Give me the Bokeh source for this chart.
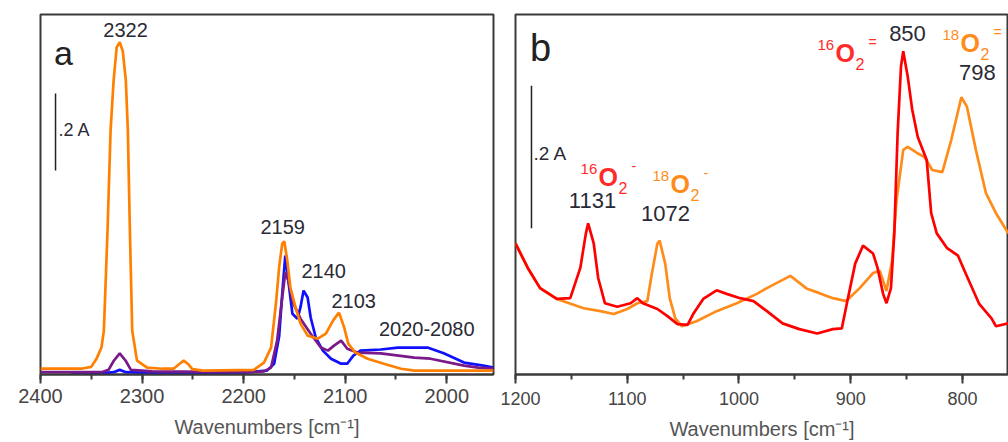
from bokeh.plotting import figure
from bokeh.models import Range1d, SingleIntervalTicker, Label
from bokeh.layouts import row
from bokeh.embed import file_html
from bokeh.resources import INLINE

# ---------------- data: panel a (CO adsorption region) ----------------
wn_a_orange = [2400, 2360, 2350, 2345, 2340, 2337.6, 2334, 2331, 2328, 2325, 2322, 2319, 2316,
               2314, 2312, 2309.7, 2305, 2295, 2280, 2269, 2263, 2259, 2255, 2250.5, 2240,
               2190, 2180, 2173, 2168, 2165, 2162, 2160, 2157, 2154, 2149, 2144, 2137, 2127,
               2119, 2112, 2107, 2106, 2101, 2097, 2090, 2078, 2062, 2045, 2032, 1954]
abs_a_orange = [0.015, 0.015, 0.02, 0.04, 0.07, 0.114, 0.374, 0.634, 0.764, 0.85, 0.863, 0.84,
                0.764, 0.634, 0.374, 0.114, 0.036, 0.018, 0.015, 0.015, 0.028, 0.036, 0.028,
                0.014, 0.01, 0.012, 0.031, 0.07, 0.19, 0.28, 0.34, 0.346, 0.296, 0.226, 0.175,
                0.132, 0.101, 0.093, 0.106, 0.14, 0.158, 0.16, 0.122, 0.08, 0.057, 0.041, 0.028,
                0.015, 0.01, 0.01]

wn_a_blue = [2370, 2340, 2328, 2322, 2316, 2300, 2200, 2177, 2170, 2165, 2162, 2159, 2156, 2152,
             2147, 2144, 2141, 2137, 2134, 2129, 2122, 2114, 2104, 2098, 2092, 2085, 2065, 2048,
             2019, 2003, 1983, 1964, 1954]
abs_a_blue = [0.003, 0.003, 0.006, 0.012, 0.006, 0.005, 0.005, 0.01, 0.028, 0.1, 0.21, 0.309,
              0.244, 0.158, 0.145, 0.175, 0.218, 0.2, 0.148, 0.096, 0.062, 0.041, 0.028, 0.028,
              0.049, 0.062, 0.065, 0.07, 0.07, 0.055, 0.031, 0.023, 0.018]

wn_a_purple = [2400, 2340, 2333, 2328, 2322, 2316, 2311, 2300, 2290, 2200, 2180, 2173, 2167,
               2162, 2159, 2156, 2151, 2144, 2134, 2124, 2117, 2111, 2104, 2098, 2088, 2065,
               2032, 2016, 1983, 1969, 1954]
abs_a_purple = [0.006, 0.006, 0.012, 0.035, 0.055, 0.035, 0.012, 0.01, 0.008, 0.006, 0.008,
                0.018, 0.088, 0.2, 0.265, 0.244, 0.184, 0.145, 0.106, 0.07, 0.062, 0.075, 0.088,
                0.067, 0.057, 0.055, 0.044, 0.041, 0.023, 0.018, 0.015]

# ---------------- data: panel b (superoxide / peroxide region) ----------------
wn_b_red = [1200, 1189, 1178, 1163, 1151, 1142, 1137, 1135, 1130, 1126, 1120, 1109, 1097, 1091,
            1086, 1073, 1064, 1055, 1046, 1041, 1032, 1020, 1011, 999, 987, 975, 961, 946, 930,
            916, 908, 903, 896, 889, 880, 876, 871, 868, 864, 861, 858, 855, 853, 849, 845, 840,
            832, 828, 823, 814, 804, 797, 785, 774, 770, 759]
abs_b_red = [0.182, 0.148, 0.12, 0.105, 0.106, 0.148, 0.196, 0.21, 0.182, 0.134, 0.099, 0.094,
             0.099, 0.106, 0.099, 0.091, 0.081, 0.07, 0.069, 0.084, 0.105, 0.117, 0.112, 0.106,
             0.102, 0.088, 0.071, 0.063, 0.057, 0.063, 0.064, 0.102, 0.154, 0.179, 0.168, 0.148,
             0.112, 0.099, 0.12, 0.196, 0.336, 0.428, 0.449, 0.414, 0.368, 0.33, 0.298, 0.224,
             0.196, 0.176, 0.165, 0.14, 0.098, 0.078, 0.067, 0.071]

wn_b_orange = [1200, 1189, 1178, 1163, 1139, 1124, 1112, 1100, 1091, 1082, 1078, 1073, 1071,
               1066, 1062, 1057, 1051, 1038, 1020, 1002, 984, 975, 954, 939, 928, 916, 904, 892,
               880, 874, 868, 863, 859, 853, 849, 841, 834, 827, 818, 810, 801, 796, 788, 779,
               770, 759]
abs_b_orange = [0.182, 0.148, 0.12, 0.105, 0.092, 0.088, 0.084, 0.091, 0.099, 0.102, 0.14,
                0.182, 0.186, 0.154, 0.106, 0.078, 0.067, 0.074, 0.088, 0.099, 0.112, 0.12,
                0.137, 0.119, 0.113, 0.106, 0.102, 0.12, 0.141, 0.144, 0.116, 0.158, 0.242,
                0.312, 0.316, 0.308, 0.302, 0.284, 0.281, 0.326, 0.385, 0.372, 0.312, 0.252,
                0.224, 0.196]

# peak annotations (text, wavenumber, absorbance)
labels_a = [("2322", 2316.3, 0.894), ("2159", 2161.6, 0.382), ("2140", 2121.2, 0.270),
            ("2103", 2091.6, 0.192), ("2020-2080", 2019.7, 0.117)]
labels_b = [("1131", 1131.1, 0.242), ("1072", 1065.8, 0.224), ("850", 849.2, 0.474),
            ("798", 786.6, 0.419)]
# species labels: (sup, sub, charge, color, wavenumber of left edge, absorbance of "O")
species_b = [("16", "2", "-", "#ff2a2a", 1141.8, 0.275),
             ("18", "2", "-", "#ff8c1a", 1077.4, 0.264),
             ("16", "2", "=", "#ff2a2a", 929.8, 0.446),
             ("18", "2", "=", "#ff8c1a", 817.9, 0.461)]

FONT = "Liberation Sans"
AXC = "#3a3a3a"


def make_fig(width, xr, yr, mbl, mbr, tick_size, tick_standoff):
    p = figure(width=width, height=442, x_range=Range1d(*xr), y_range=Range1d(*yr),
               output_backend="svg", toolbar_location=None, y_axis_location=None,
               min_border_left=mbl, min_border_right=mbr, min_border_top=14,
               min_border_bottom=68)
    p.grid.visible = False
    p.outline_line_color = AXC
    p.outline_line_width = 2
    p.background_fill_color = "white"
    p.border_fill_color = "white"
    ax = p.xaxis[0]
    ax.ticker = SingleIntervalTicker(interval=100, num_minor_ticks=2)
    ax.axis_line_color = AXC
    ax.axis_line_width = 2
    ax.major_tick_line_color = AXC
    ax.major_tick_line_width = 2
    ax.major_tick_out = 9
    ax.major_tick_in = 0
    ax.minor_tick_line_color = AXC
    ax.minor_tick_line_width = 2
    ax.minor_tick_out = 5
    ax.minor_tick_in = 0
    ax.major_label_text_font = FONT
    ax.major_label_text_font_size = tick_size
    ax.major_label_text_color = "#454545"
    ax.major_label_standoff = tick_standoff
    ax.axis_label = "Wavenumbers [cm⁻¹]"
    ax.axis_label_text_font = FONT
    ax.axis_label_text_font_size = "20px"
    ax.axis_label_text_font_style = "normal"
    ax.axis_label_text_color = "#555555"
    ax.axis_label_standoff = 10
    return p


def add_text(p, x, y, text, size, color="#2a2a35", align="center", style="normal"):
    p.add_layout(Label(x=x, y=y, text=text, text_font=FONT, text_font_size=size,
                       text_color=color, text_align=align, text_baseline="middle",
                       text_font_style=style))


# ---------------- panel a ----------------
pa = make_fig(500, (2400, 1954), (0, 0.935), 40, 7, "20px", 5)
pa.line(wn_a_blue, abs_a_blue, line_color="#1010ff", line_width=2.7)
pa.line(wn_a_purple, abs_a_purple, line_color="#7a1a8a", line_width=2.7)
pa.line(wn_a_orange, abs_a_orange, line_color="#ff8000", line_width=2.7)
pa.line([2385.2, 2385.2], [0.53, 0.73], line_color="#222222", line_width=1.5)
add_text(pa, 2382.3, 0.634, ".2 A", "18px", align="left")
add_text(pa, 2377.3, 0.836, "a", "34px", color="#222222")
for t, x, y in labels_a:
    add_text(pa, x, y, t, "20px")

# ---------------- panel b ----------------
pb = make_fig(508, (1200, 758.8), (0, 0.5), 15, 0, "18px", 8)
pb.line(wn_b_orange, abs_b_orange, line_color="#ff8c1a", line_width=2.7)
pb.line(wn_b_red, abs_b_red, line_color="#ff0000", line_width=2.7)
pb.line([1185.7, 1185.7], [0.203, 0.401], line_color="#222222", line_width=1.5)
add_text(pb, 1183.9, 0.307, ".2 A", "19px", align="left")
add_text(pb, 1177.6, 0.454, "b", "38px", color="#222222")
for t, x, y in labels_b:
    add_text(pb, x, y, t, "22px")

ppx = 1 / 1.1175   # wavenumber per pixel in panel b
ppy = 1 / 720.0    # absorbance per pixel in panel b
for sup, sub, chg, col, x0, yO in species_b:
    add_text(pb, x0, yO + 8 * ppy, sup, "15px", color=col, align="left")
    add_text(pb, x0 - 18 * ppx, yO, "O", "25px", color=col, align="left", style="bold")
    add_text(pb, x0 - 38 * ppx, yO - 11 * ppy, sub, "16px", color=col, align="left")
    add_text(pb, x0 - 51 * ppx, yO + 11 * ppy, chg, "14px", color=col, align="left")

layout = row(pa, pb)
open("out.html", "w").write(file_html(layout, INLINE))
